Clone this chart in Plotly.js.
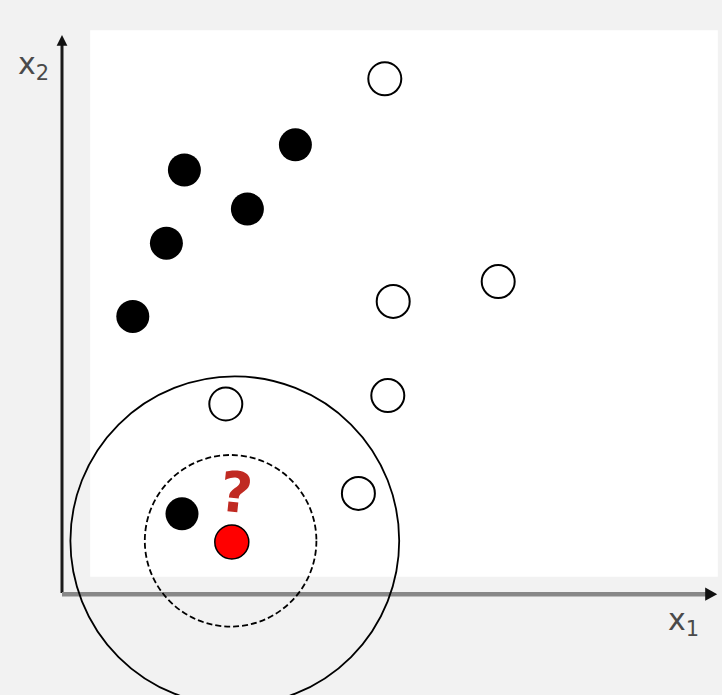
<!DOCTYPE html>
<html>
<head>
<meta charset="utf-8">
<script src="https://cdn.plot.ly/plotly-3.0.1.min.js"></script>
<style>
  body { margin: 0; background: #f2f2f2; }
  #chart { width: 722px; height: 695px; }
</style>
</head>
<body>
<div id="chart"></div>
<script>
// class A (filled) and class B (open) training points, plus the query point
var blackX = [2.04, 3.89, 3.09, 1.74, 1.18, 2.00];
var blackY = [7.05, 7.47, 6.40, 5.83, 4.61, 1.32];

var whiteX = [5.38, 5.52, 7.27, 5.43, 2.73, 4.94];
var whiteY = [8.57, 4.86, 5.19, 3.29, 3.15, 1.66];

var queryX = [2.83];
var queryY = [0.85];

// neighbourhood radii (k=3 dashed, k=5 solid)
var innerR = 1.43;
var outerR = 2.74;

var traceBlack = {
    x: blackX,
    y: blackY,
    mode: "markers",
    type: "scatter",
    marker: {size: 33, color: "#000000", line: {width: 0}},
    hoverinfo: "skip"
};

var traceWhite = {
    x: whiteX,
    y: whiteY,
    mode: "markers",
    type: "scatter",
    marker: {size: 33, color: "#ffffff", line: {width: 2, color: "#000000"}},
    hoverinfo: "skip"
};

var traceQuery = {
    x: queryX,
    y: queryY,
    mode: "markers",
    type: "scatter",
    marker: {size: 34, color: "#ff0000", line: {width: 1.5, color: "#000000"}},
    hoverinfo: "skip"
};

var data = [traceBlack, traceWhite, traceQuery];

var cx = queryX[0] + 0.05;
var cy = queryY[0] + 0.02;

var shapes = [
    // white plotting panel
    {type: "rect", xref: "x", yref: "y", x0: 0.47, x1: 10.93, y0: 0.27, y1: 9.38,
     fillcolor: "#ffffff", line: {width: 0}, layer: "below"},
    // axes
    {type: "line", x0: 0, x1: 0, y0: 0, y1: 9.15, line: {color: "#1a1a1a", width: 3}},
    {type: "line", x0: 0, x1: 10.75, y0: -0.02, y1: -0.02, line: {color: "#888888", width: 4.5}},
    {type: "path", path: "M -0.09 9.12 L 0.09 9.12 L 0 9.3 Z",
     fillcolor: "#111111", line: {width: 0}},
    {type: "path", path: "M 10.72 0.09 L 10.72 -0.13 L 10.92 -0.02 Z",
     fillcolor: "#111111", line: {width: 0}},
    // neighbourhoods
    {type: "circle", x0: cx - 0.07 - innerR, x1: cx - 0.07 + innerR, y0: cy - innerR, y1: cy + innerR,
     line: {color: "#000000", width: 1.8, dash: "6px,3px"}},
    {type: "circle", x0: cx - outerR, x1: cx + outerR, y0: cy - outerR, y1: cy + outerR,
     line: {color: "#000000", width: 1.8}}
];

var annotations = [
    {x: 2.9, y: 1.67, text: "<b>?</b>", showarrow: false, textangle: 6,
     font: {family: "DejaVu Sans", size: 56, color: "#c02a22"}},
    {x: 10.35, y: -0.48, text: "x<sub>1</sub>", showarrow: false,
     font: {family: "DejaVu Sans", size: 30, color: "#4a4a4a"}},
    {x: -0.48, y: 8.8, text: "x<sub>2</sub>", showarrow: false,
     font: {family: "DejaVu Sans", size: 30, color: "#4a4a4a"}}
];

var layout = {
    width: 722,
    height: 695,
    margin: {l: 0, r: 0, t: 0, b: 0},
    paper_bgcolor: "#f2f2f2",
    plot_bgcolor: "rgba(0,0,0,0)",
    showlegend: false,
    xaxis: {range: [-62 / 60, 660 / 60], visible: false, fixedrange: true},
    yaxis: {range: [-102 / 60, 593 / 60], visible: false, fixedrange: true},
    shapes: shapes,
    annotations: annotations
};

Plotly.newPlot("chart", data, layout, {displayModeBar: false, staticPlot: true});
</script>
</body>
</html>
